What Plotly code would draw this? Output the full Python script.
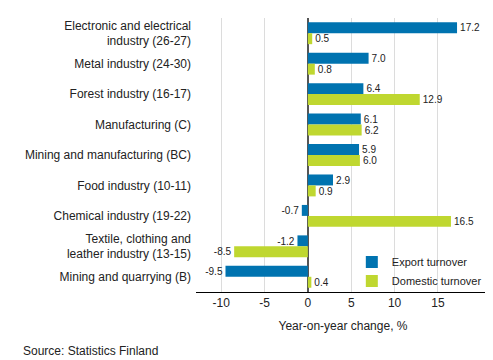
import plotly.graph_objects as go

categories = [
    "Electronic and electrical<br>industry (26-27)",
    "Metal industry (24-30)",
    "Forest industry (16-17)",
    "Manufacturing (C)",
    "Mining and manufacturing (BC)",
    "Food industry (10-11)",
    "Chemical industry (19-22)",
    "Textile, clothing and<br>leather industry (13-15)",
    "Mining and quarrying (B)",
]
export_turnover = [17.2, 7.0, 6.4, 6.1, 5.9, 2.9, -0.7, -1.2, -9.5]
domestic_turnover = [0.5, 0.8, 12.9, 6.2, 6.0, 0.9, 16.5, -8.5, 0.4]
tick_vals = [-10, -5, 0, 5, 10, 15]

FONT = "Liberation Sans, Arial, sans-serif"
BLUE = "#0073b0"
GREEN = "#bfd730"

fig = go.Figure()
fig.add_trace(go.Bar(
    y=categories, x=export_turnover, orientation="h", name="Export turnover",
    marker=dict(color=BLUE, line=dict(width=0)),
    text=[f"{v:.1f}" for v in export_turnover], textposition="outside",
    textfont=dict(size=11, color="#222"), cliponaxis=False,
))
fig.add_trace(go.Bar(
    y=categories, x=domestic_turnover, orientation="h", name="Domestic turnover",
    marker=dict(color=GREEN, line=dict(width=0)),
    text=[f"{v:.1f}" for v in domestic_turnover], textposition="outside",
    textfont=dict(size=11, color="#222"), cliponaxis=False,
))

fig.update_layout(
    width=493, height=360,
    margin=dict(l=188, r=11, t=10, b=76, autoexpand=False),
    barmode="group", bargap=0.28, bargroupgap=0,
    plot_bgcolor="white", paper_bgcolor="white",
    font=dict(family=FONT, size=12, color="#222"),
    showlegend=True,
    legend=dict(x=0.53, y=0.075, xanchor="left", yanchor="middle",
                bgcolor="rgba(0,0,0,0)", font=dict(size=11),
                itemwidth=30, tracegroupgap=0),
    xaxis=dict(
        range=[-12.9, 21], tickvals=tick_vals, ticktext=[str(v) for v in tick_vals],
        showgrid=True, gridcolor="#dcdcdc", gridwidth=1,
        zeroline=True, zerolinecolor="#555555", zerolinewidth=1.5,
        showline=True, linecolor="#000000", linewidth=1,
        ticks="", tickfont=dict(size=12), automargin=False,
        title=dict(text="Year-on-year change, %", font=dict(size=12), standoff=12),
    ),
    yaxis=dict(
        autorange="reversed", showgrid=False, ticks="", ticklabelstandoff=4,
        tickfont=dict(size=12), automargin=False,
    ),
    annotations=[dict(
        text="Source: Statistics Finland", xref="paper", yref="paper",
        x=-175/294, y=-59/274, xanchor="left", yanchor="middle",
        showarrow=False, font=dict(size=12),
    )],
)

fig.write_html("out.html")
